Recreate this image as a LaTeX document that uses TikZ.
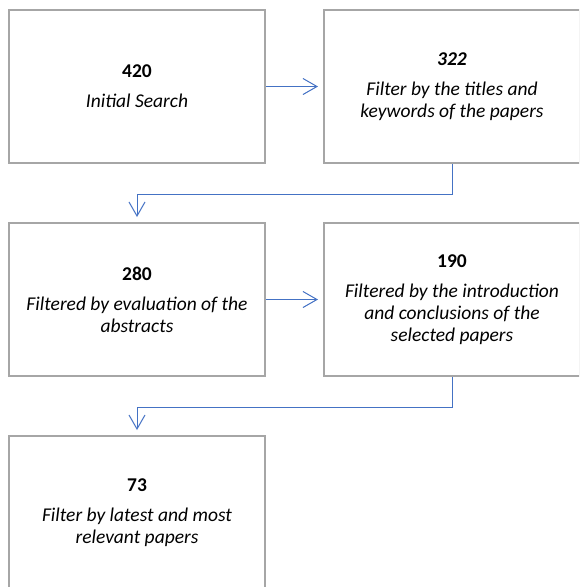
\documentclass[tikz,border=0pt]{standalone}
\usepackage{fontspec}
\setmainfont{Carlito}
\usetikzlibrary{arrows.meta}
\definecolor{boxgray}{HTML}{A6A6A6}
\definecolor{linkblue}{HTML}{4472C4}
\tikzset{
  stage/.style={draw=boxgray, line width=2pt, minimum width=256pt, minimum height=153pt,
    inner sep=0pt, align=center, font=\fontsize{19.5}{22}\selectfont},
  link/.style={draw=linkblue, line width=1pt, -{Straight Barb[length=14pt,width=16pt]}, shorten >=5pt},
}
\begin{document}
\begin{tikzpicture}[x=1pt,y=-1pt]
    \clip (0,0) rectangle (579,587);
    \useasboundingbox (0,0) rectangle (579,587);
    % stages of the selection
    \node[stage] (search) at (137,86.5) {\textbf{420}\\[8pt]\textit{Initial Search}};
    \node[stage] (titles) at (452,86.5) {\textbf{\textit{322}}\\[8pt]\textit{Filter by the titles and}\\\textit{keywords of the papers}};
    \node[stage] (abstracts) at (137,299.5) {\textbf{280}\\[8pt]\textit{Filtered by evaluation of the}\\\textit{abstracts}};
    \node[stage] (intro) at (452,299.5) {\textbf{190}\\[8pt]\textit{Filtered by the introduction}\\\textit{and conclusions of the}\\\textit{selected papers}};
    \node[stage] (latest) at (137,512.5) {\textbf{73}\\[8pt]\textit{Filter by latest and most}\\\textit{relevant papers}};
    % links
    \draw[link] (search) -- (titles);
    \draw[link] (titles.south) -- ++(0,30) -| (abstracts.north);
    \draw[link] (abstracts) -- (intro);
    \draw[link] (intro.south) -- ++(0,30) -| (latest.north);
\end{tikzpicture}
\end{document}
